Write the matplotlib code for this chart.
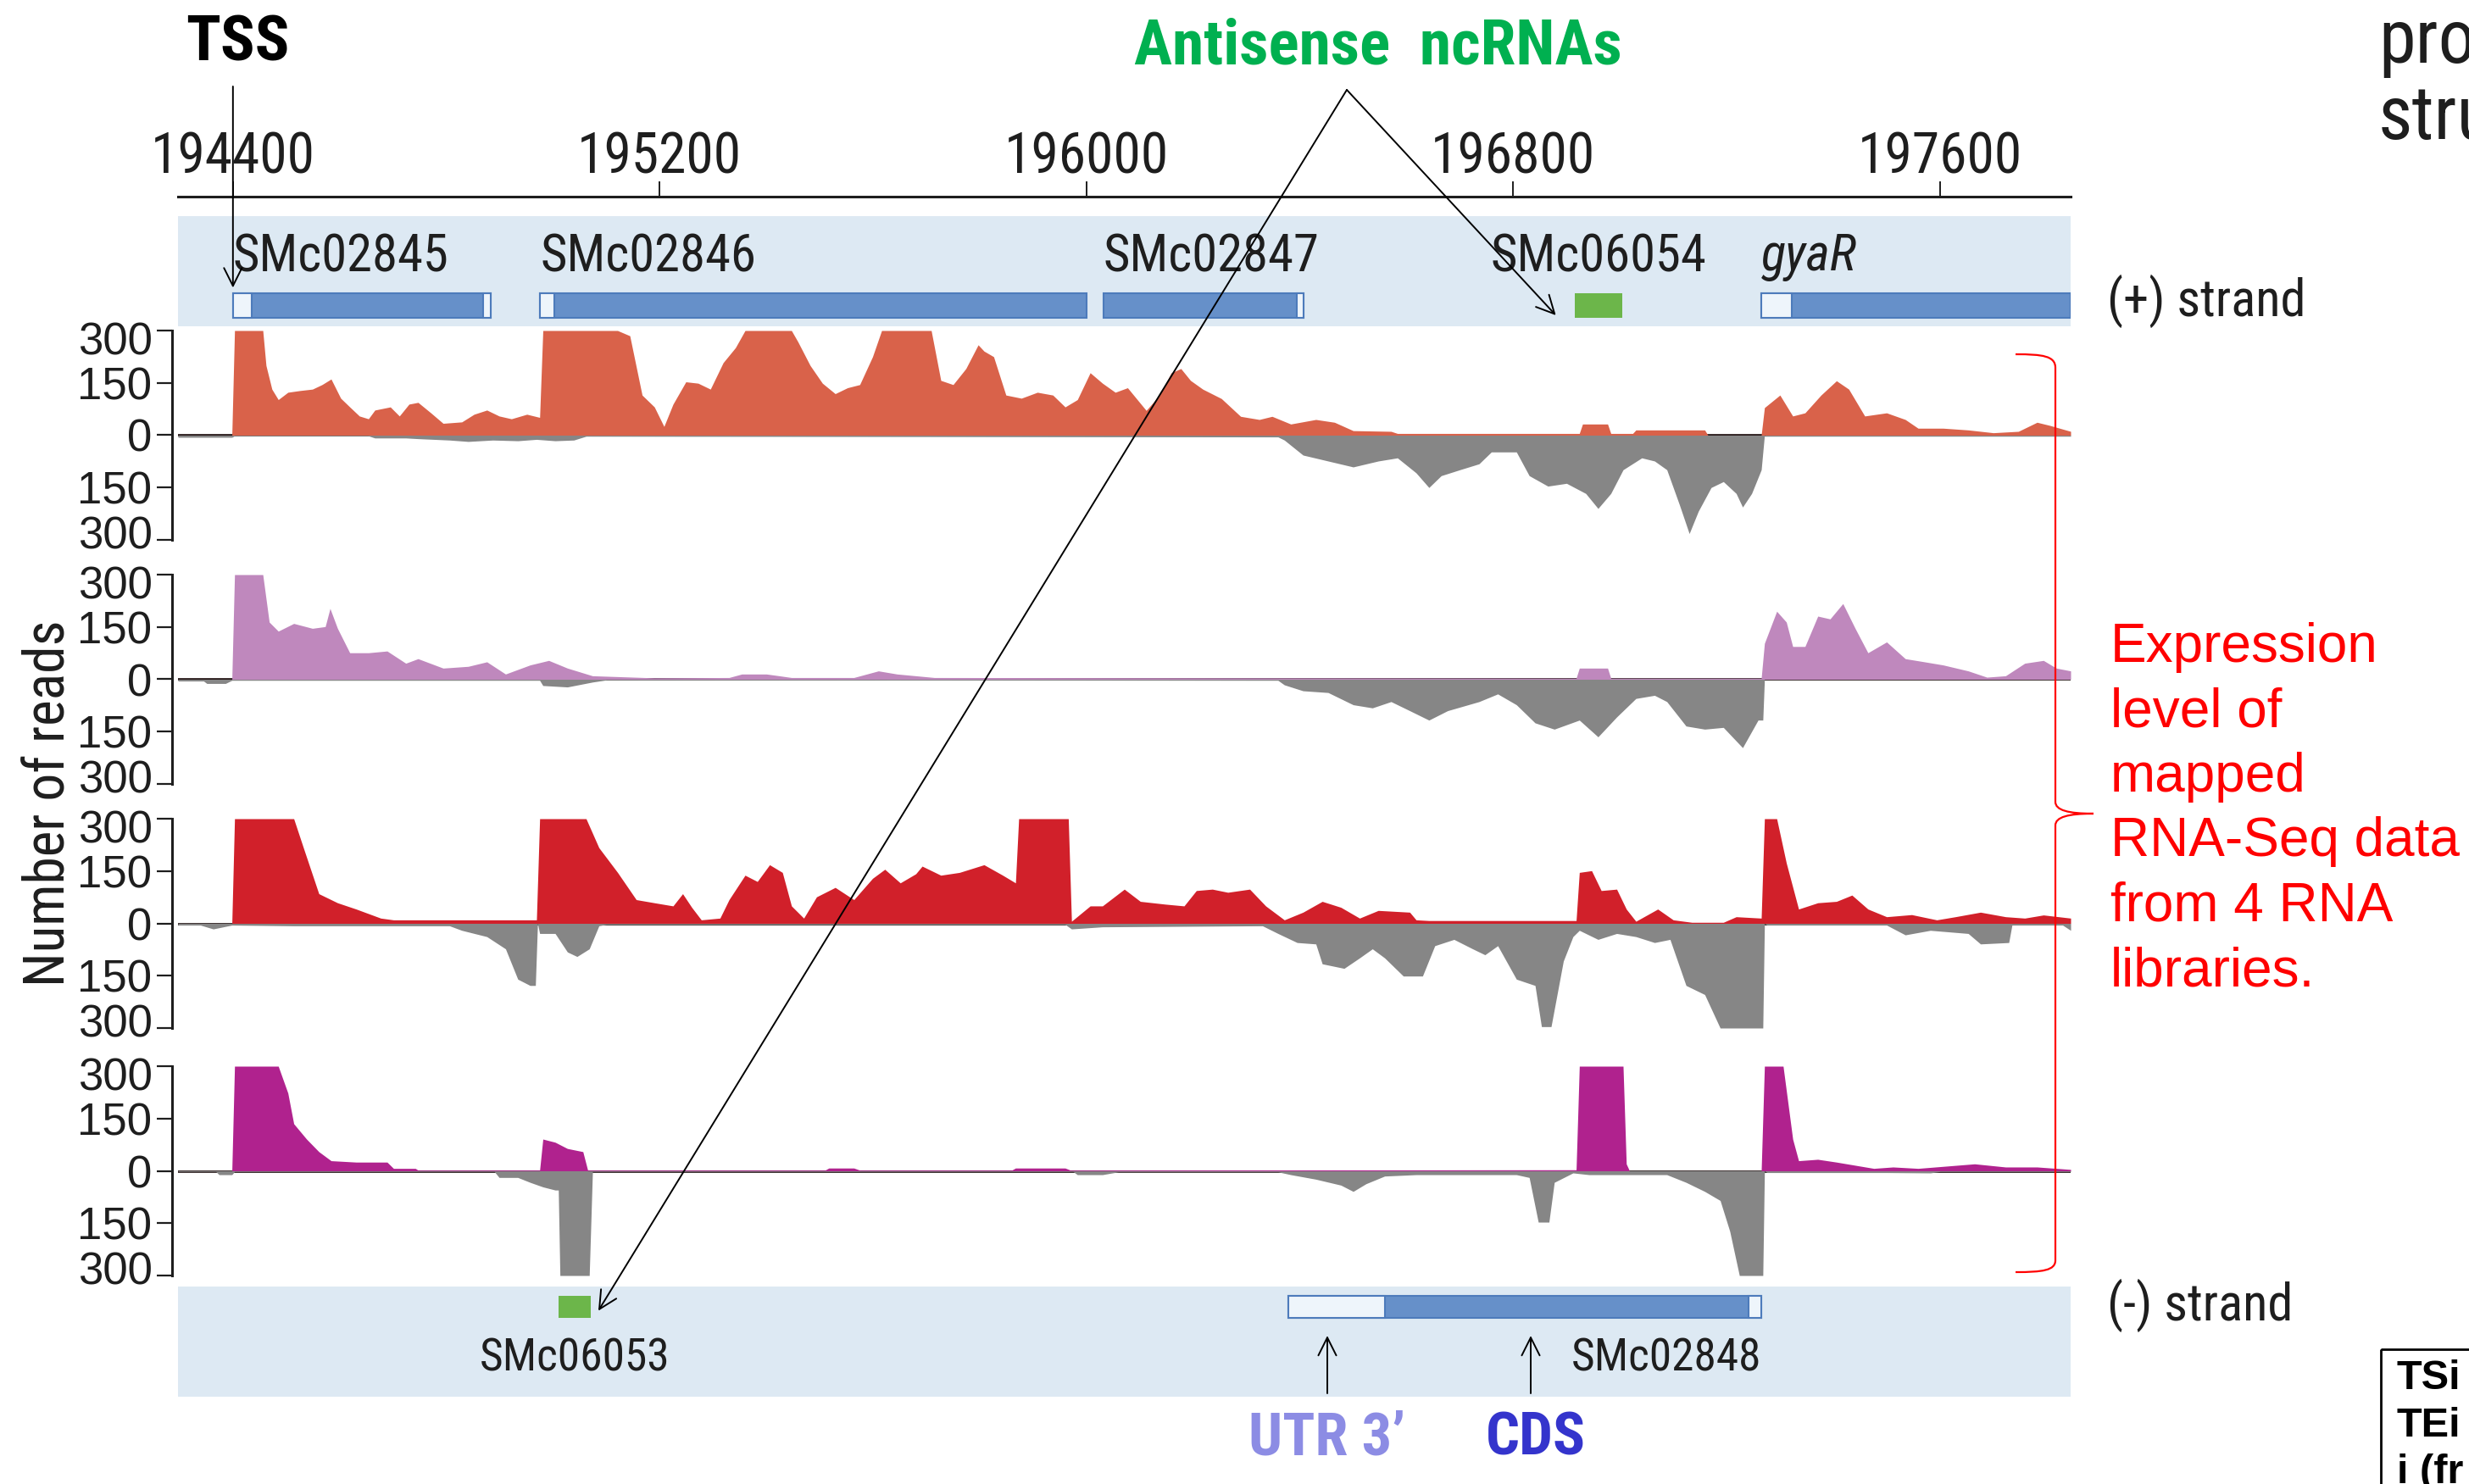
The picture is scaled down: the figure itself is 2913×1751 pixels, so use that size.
import matplotlib
matplotlib.use('Agg')
import matplotlib.pyplot as plt
from matplotlib import font_manager as fm
from matplotlib.patches import Rectangle, PathPatch
from matplotlib.path import Path
from matplotlib.transforms import ScaledTranslation

plt.rcParams['font.family'] = ['Liberation Sans', 'DejaVu Sans']

W, H = 2913, 1751

# genomic window (bp) and axis ticks
x_start, x_end = 194297, 197845
ruler_ticks = [194400, 195200, 196000, 196800, 197600]
read_ticks = [300, 150, 0, -150, -300]
read_tick_labels = ['300', '150', '0', '150', '300']

# genes on the (+) strand
plus_names = ['SMc02845', 'SMc02846', 'SMc02847', 'gyaR']
plus_starts = [194400, 194976, 196032, 197265]
plus_ends = [194884, 196000, 196407, 197845]
plus_utrs = [(194400, 194436), (194869, 194884), (194976, 195003),
             (196394, 196407), (197265, 197322)]
plus_ncrna = ('SMc06054', 196915, 197004)

# genes on the (-) strand
minus_names = ['SMc02848']
minus_starts = [196378]
minus_ends = [197265]
minus_utrs = [(196378, 196560), (197241, 197265)]
minus_ncrna = ('SMc06053', 195011, 195070)

# coverage of the 4 RNA libraries: (position bp, reads); plus strand up, minus strand down
lib1_plus = [(194297, 0), (194398, 0), (194403, 300), (194456, 300), (194462, 200), (194473, 132),
             (194485, 102), (194503, 123), (194526, 128), (194549, 132), (194567, 145), (194584, 161),
             (194602, 106), (194619, 81), (194637, 55), (194654, 47), (194666, 72), (194695, 81),
             (194712, 55), (194730, 89), (194747, 94), (194771, 64), (194794, 34), (194829, 38),
             (194852, 60), (194876, 72), (194899, 55), (194922, 47), (194951, 60), (194975, 51),
             (194981, 300), (195121, 300), (195144, 285), (195167, 115), (195190, 81), (195208, 25),
             (195225, 89), (195249, 153), (195272, 149), (195295, 132), (195319, 208), (195342, 251),
             (195360, 300), (195447, 300), (195459, 268), (195482, 200), (195505, 149), (195529, 119),
             (195552, 136), (195575, 145), (195599, 225), (195616, 300), (195709, 300), (195727, 157),
             (195750, 145), (195774, 191), (195797, 259), (195808, 241), (195826, 225), (195849, 115),
             (195878, 106), (195908, 123), (195937, 115), (195960, 81), (195983, 102), (196007, 179),
             (196030, 149), (196054, 123), (196077, 136), (196112, 71), (196136, 113), (196159, 179),
             (196177, 191), (196195, 157), (196218, 132), (196253, 105), (196289, 54), (196324, 45),
             (196348, 54), (196383, 32), (196430, 45), (196465, 37), (196500, 13), (196571, 11),
             (196583, 5), (196924, 5), (196930, 32), (196977, 32), (196983, 5), (197024, 5),
             (197030, 15), (197159, 15), (197165, 0), (197265, 0), (197271, 79), (197300, 115),
             (197324, 55), (197347, 64), (197377, 115), (197406, 156), (197429, 132), (197459, 55),
             (197500, 64), (197535, 45), (197559, 20), (197606, 20), (197653, 15), (197700, 7),
             (197747, 11), (197782, 37), (197806, 28), (197845, 11)]
lib1_minus = [(194297, 6), (194398, 6), (194403, 2), (194654, 2), (194666, 8), (194724, 8),
              (194747, 10), (194806, 14), (194841, 18), (194887, 14), (194934, 16), (194969, 12),
              (195004, 16), (195039, 14), (195062, 3), (196359, 5), (196371, 14), (196406, 57),
              (196453, 74), (196500, 91), (196547, 74), (196583, 65), (196618, 108), (196642, 150),
              (196665, 116), (196700, 99), (196736, 82), (196759, 48), (196806, 48), (196830, 116),
              (196865, 146), (196900, 138), (196936, 167), (196959, 210), (196983, 167), (197006, 99),
              (197041, 65), (197065, 74), (197088, 99), (197112, 201), (197130, 282), (197147, 218),
              (197171, 150), (197194, 133), (197218, 167), (197230, 206), (197247, 167), (197265, 99),
              (197271, 0), (197272, 3), (197845, 3)]

lib2_plus = [(194297, 0), (194398, 0), (194403, 300), (194456, 300), (194468, 164), (194485, 138),
             (194514, 160), (194549, 146), (194573, 151), (194582, 203), (194596, 146), (194619, 76),
             (194654, 76), (194689, 81), (194724, 46), (194747, 59), (194794, 32), (194841, 37),
             (194876, 50), (194911, 15), (194934, 28), (194957, 41), (194992, 54), (195027, 32),
             (195074, 10), (195190, 4), (195330, 5), (195354, 15), (195400, 15), (195424, 10),
             (195447, 5), (195564, 5), (195610, 24), (195645, 15), (195715, 5), (196918, 3),
             (196924, 32), (196977, 32), (196983, 3), (197265, 3), (197271, 103), (197294, 195),
             (197312, 164), (197324, 94), (197347, 94), (197371, 181), (197394, 173), (197418, 217),
             (197441, 146), (197465, 76), (197500, 107), (197535, 59), (197571, 50), (197606, 41),
             (197653, 24), (197688, 6), (197723, 10), (197759, 46), (197794, 54), (197818, 32),
             (197845, 24)]
lib2_minus = [(194297, 5), (194345, 5), (194351, 12), (194386, 12), (194398, 3), (194975, 3),
              (194981, 18), (195027, 22), (195074, 8), (195100, 2), (196359, 3), (196371, 16),
              (196406, 33), (196453, 38), (196500, 73), (196536, 82), (196571, 64), (196606, 90),
              (196642, 117), (196677, 90), (196736, 64), (196771, 42), (196806, 73), (196841, 125),
              (196877, 143), (196924, 117), (196959, 165), (196994, 108), (197030, 55), (197065, 46),
              (197088, 64), (197124, 134), (197159, 143), (197194, 138), (197230, 196), (197259, 117),
              (197268, 117), (197271, 0), (197845, 0)]

lib3_plus = [(194297, 0), (194398, 0), (194403, 300), (194514, 300), (194532, 217), (194561, 85),
             (194596, 59), (194631, 41), (194677, 15), (194701, 10), (194969, 10), (194975, 300),
             (195062, 300), (195086, 217), (195121, 146), (195156, 68), (195190, 59), (195225, 50),
             (195243, 85), (195260, 46), (195278, 10), (195313, 15), (195330, 68), (195360, 138),
             (195383, 120), (195406, 168), (195430, 146), (195447, 50), (195470, 15), (195494, 76),
             (195529, 103), (195564, 68), (195599, 129), (195622, 155), (195651, 116), (195680, 142),
             (195692, 164), (195727, 138), (195762, 146), (195808, 168), (195843, 138), (195867, 116),
             (195873, 300), (195966, 300), (195972, 6), (196007, 50), (196030, 50), (196071, 98),
             (196101, 63), (196148, 55), (196183, 50), (196206, 94), (196236, 98), (196265, 89),
             (196306, 98), (196336, 50), (196371, 10), (196406, 32), (196442, 63), (196477, 46),
             (196512, 15), (196547, 37), (196606, 32), (196618, 10), (196642, 8), (196918, 8),
             (196924, 146), (196947, 151), (196965, 94), (196994, 98), (197012, 41), (197030, 6),
             (197071, 41), (197100, 10), (197135, 3), (197194, 3), (197218, 19), (197265, 15),
             (197271, 300), (197294, 300), (197312, 173), (197335, 41), (197371, 59), (197406, 63),
             (197435, 81), (197465, 41), (197500, 19), (197547, 25), (197594, 10), (197629, 19),
             (197676, 32), (197723, 19), (197759, 15), (197794, 24), (197845, 15)]
lib3_minus = [(194297, 5), (194339, 5), (194363, 16), (194398, 5), (194514, 7), (194806, 7),
              (194829, 20), (194876, 38), (194911, 73), (194934, 160), (194957, 178), (194967, 178),
              (194971, 0), (194975, 29), (195004, 29), (195027, 82), (195045, 95), (195068, 73),
              (195086, 7), (195100, 3), (195960, 3), (195972, 16), (196030, 10), (196330, 7),
              (196359, 29), (196395, 55), (196430, 59), (196442, 116), (196483, 129), (196512, 99),
              (196536, 73), (196559, 99), (196594, 151), (196630, 151), (196653, 64), (196689, 46),
              (196724, 73), (196747, 90), (196771, 64), (196806, 160), (196841, 178), (196853, 296),
              (196871, 296), (196894, 108), (196912, 38), (196924, 20), (196959, 46), (196994, 29),
              (197030, 38), (197065, 55), (197094, 46), (197124, 178), (197159, 204), (197188, 300),
              (197268, 300), (197271, 0), (197276, 5), (197500, 5), (197535, 33), (197582, 20),
              (197653, 29), (197676, 59), (197729, 55), (197735, 5), (197830, 5), (197845, 20)]

lib4_plus = [(194297, 0), (194398, 0), (194403, 300), (194485, 300), (194503, 223), (194514, 135),
             (194538, 91), (194561, 55), (194584, 29), (194631, 25), (194689, 25), (194701, 7),
             (194742, 7), (194747, 2), (194975, 2), (194981, 91), (195004, 82), (195027, 64),
             (195056, 55), (195065, 2), (195510, 2), (195517, 8), (195564, 8), (195575, 2),
             (195860, 2), (195867, 8), (195960, 8), (195970, 2), (196918, 3), (196924, 300),
             (197006, 300), (197012, 20), (197018, 0), (197265, 0), (197271, 300), (197306, 300),
             (197324, 91), (197335, 29), (197371, 33), (197406, 25), (197441, 16), (197476, 7),
             (197512, 11), (197559, 7), (197665, 20), (197723, 11), (197782, 11), (197845, 4)]
lib4_minus = [(194297, 2), (194368, 2), (194374, 11), (194398, 11), (194403, 2), (194890, 2),
              (194899, 19), (194934, 19), (194957, 33), (194981, 46), (195004, 55), (195010, 55),
              (195013, 300), (195068, 300), (195074, 2), (195975, 2), (195983, 11), (196030, 11),
              (196060, 3), (196359, 3), (196383, 11), (196430, 24), (196477, 41), (196500, 59),
              (196524, 37), (196559, 15), (196618, 11), (196806, 11), (196830, 19), (196847, 147),
              (196867, 147), (196877, 33), (196912, 6), (196942, 11), (197088, 11), (197124, 33),
              (197159, 59), (197188, 85), (197206, 173), (197224, 300), (197268, 300), (197271, 0),
              (197276, 5), (197500, 5), (197582, 6), (197600, 2), (197845, 2)]

libraries = [(lib1_plus, lib1_minus, '#d9624a'),
             (lib2_plus, lib2_minus, '#bf88bd'),
             (lib3_plus, lib3_minus, '#d1202a'),
             (lib4_plus, lib4_minus, '#b0228e')]

band_color = '#dde9f3'
gene_color = '#6690c9'
gene_edge = '#4d7bbb'
utr_color = '#eef5fb'
ncrna_color = '#6cb64a'
minus_grey = '#868686'
ink = '#1e1e1e'


def pick_font(names):
    # first condensed family that is really installed, else None
    for n in names:
        try:
            fm.findfont(fm.FontProperties(family=n), fallback_to_default=False)
        except ValueError:
            continue
        return n
    return None


narrow = pick_font(['Liberation Sans Narrow', 'Arial Narrow', 'Roboto Condensed'])
if narrow:
    cond_font = [narrow, 'DejaVu Sans']
    k = 1.18
else:
    cond_font = ['Liberation Sans', 'DejaVu Sans']
    k = 1.0

fig = plt.figure(figsize=(W / 100, H / 100), dpi=100)


def px_axes(x0, y0, x1, y1):
    # axes from pixel box (top-left origin)
    return fig.add_axes([x0 / W, 1 - y1 / H, (x1 - x0) / W, (y1 - y0) / H])


def clean(ax):
    for s in ax.spines.values():
        s.set_visible(False)
    ax.set_xticks([])
    ax.set_yticks([])
    ax.set_xlim(x_start, x_end)


# genomic ruler
ax_r = px_axes(210, 232, 2443, 250)
clean(ax_r)
ax_r.patch.set_visible(False)
ax_r.spines['top'].set_visible(True)
ax_r.spines['top'].set_linewidth(2.2)
ax_r.spines['top'].set_color(ink)
ax_r.xaxis.tick_top()
ax_r.set_xticks(ruler_ticks)
ax_r.set_xticklabels([str(t) for t in ruler_ticks])
ax_r.tick_params(axis='x', direction='out', length=13, width=1.4, labelsize=40 * k,
                 pad=-3, colors=ink)
for lbl in ax_r.get_xticklabels():
    lbl.set_fontfamily(cond_font)


def draw_genes(ax, starts, ends, utrs, y0, h):
    for s, e in zip(starts, ends):
        ax.add_patch(Rectangle((s, y0), e - s, h, facecolor=gene_color,
                               edgecolor=gene_edge, lw=1.5))
    for s, e in utrs:
        ax.add_patch(Rectangle((s, y0), e - s, h, facecolor=utr_color,
                               edgecolor=gene_edge, lw=1.5))


gene_fs = 37 * k

# (+) strand band
ax_top = px_axes(210, 255, 2443, 385)
clean(ax_top)
ax_top.set_facecolor(band_color)
ax_top.set_ylim(0, 1)
draw_genes(ax_top, plus_starts, plus_ends, plus_utrs, 0.08, 0.22)
ax_top.add_patch(Rectangle((plus_ncrna[1], 0.08), plus_ncrna[2] - plus_ncrna[1], 0.22,
                           facecolor=ncrna_color, lw=0))
for name, s in zip(plus_names, plus_starts):
    ax_top.text(s, 0.63, name, fontsize=gene_fs, ha='left', va='center', color=ink,
                family=cond_font, style='italic' if name == 'gyaR' else 'normal')
ax_top.text((plus_ncrna[1] + plus_ncrna[2]) / 2, 0.63, plus_ncrna[0], fontsize=gene_fs,
            ha='center', va='center', color=ink, family=cond_font)

# coverage tracks
track_boxes = [(390, 637), (678, 925), (966, 1213), (1258, 1505)]
nudge_down = ScaledTranslation(0, -0.09, fig.dpi_scale_trans)
nudge_up = ScaledTranslation(0, 0.09, fig.dpi_scale_trans)
for (plus, minus, col), (t, b) in zip(libraries, track_boxes):
    ax = px_axes(210, t, 2443, b)
    ax.patch.set_visible(False)
    ax.set_xlim(x_start, x_end)
    ax.set_ylim(-300, 300)
    for side in ['top', 'right', 'bottom']:
        ax.spines[side].set_visible(False)
    ax.spines['left'].set_position(('outward', 5))
    ax.spines['left'].set_linewidth(2.2)
    ax.spines['left'].set_color(ink)
    ax.set_xticks([])
    ax.set_yticks(read_ticks)
    ax.set_yticklabels(read_tick_labels)
    ax.tick_params(axis='y', direction='out', length=13, width=1.6, labelsize=38,
                   pad=4, colors=ink)
    # keep the stacked 300 labels of neighbouring tracks apart
    labels = ax.get_yticklabels()
    labels[0].set_transform(labels[0].get_transform() + nudge_down)
    labels[-1].set_transform(labels[-1].get_transform() + nudge_up)
    ax.axhline(0, color='#2a1c1c', lw=2, zorder=1)
    px, py = zip(*plus)
    mx, my = zip(*minus)
    ax.fill_between(mx, 0, [-v for v in my], color=minus_grey, lw=0, zorder=2)
    ax.fill_between(px, 0, py, color=col, lw=0, zorder=3)

# (-) strand band
bot_fs = gene_fs * 0.88
ax_bot = px_axes(210, 1518, 2443, 1648)
clean(ax_bot)
ax_bot.set_facecolor(band_color)
ax_bot.set_ylim(0, 1)
draw_genes(ax_bot, minus_starts, minus_ends, minus_utrs, 0.715, 0.2)
ax_bot.add_patch(Rectangle((minus_ncrna[1], 0.715), minus_ncrna[2] - minus_ncrna[1], 0.2,
                           facecolor=ncrna_color, lw=0))
ax_bot.text((minus_ncrna[1] + minus_ncrna[2]) / 2, 0.35, minus_ncrna[0], fontsize=bot_fs,
            ha='center', va='center', color=ink, family=cond_font)
for name, e in zip(minus_names, minus_ends):
    ax_bot.text(e, 0.35, name, fontsize=bot_fs, ha='right', va='center', color=ink,
                family=cond_font)

# overlay for annotations, in pixel coordinates
ov = fig.add_axes([0, 0, 1, 1])
ov.set_xlim(0, W)
ov.set_ylim(H, 0)
ov.axis('off')
ov.set_zorder(10)


def to_px(ax, x, y):
    dx, dy = ax.transData.transform((x, y))
    return dx, H - dy


arrow = dict(arrowstyle='->', lw=1.4, color='black', mutation_scale=38,
             shrinkA=0, shrinkB=0)

ov.text(59, 948, 'Number of reads', rotation=90, fontsize=40 * k, ha='center',
        va='center', color=ink, family=cond_font)
ov.text(2486, 355, '(+) strand', fontsize=37 * k, ha='left', va='center', color=ink,
        family=cond_font)
ov.text(2486, 1540, '(-) strand', fontsize=37 * k, ha='left', va='center', color=ink,
        family=cond_font)

# TSS
tss_tip = to_px(ax_top, plus_starts[0], 0.35)
ov.text(280, 52, 'TSS', fontsize=46 * k, fontweight='bold', ha='center', va='center',
        color='black', family=cond_font)
ov.annotate('', xy=tss_tip, xytext=(tss_tip[0], 102), arrowprops=arrow)

# antisense ncRNAs
apex = (1589, 106)
ov.text(1626, 56, 'Antisense  ncRNAs', fontsize=46 * k, fontweight='bold', ha='center',
        va='center', color='#00b050', family=cond_font)
ov.annotate('', xy=to_px(ax_top, plus_ncrna[1] - 35, 0.1), xytext=apex, arrowprops=arrow)
ov.annotate('', xy=to_px(ax_bot, minus_ncrna[2] + 15, 0.78), xytext=apex, arrowprops=arrow)

# UTR / CDS labels
ov.annotate('', xy=(1566, 1576), xytext=(1566, 1644), arrowprops=arrow)
ov.annotate('', xy=(1806, 1576), xytext=(1806, 1644), arrowprops=arrow)
ov.text(1566, 1697, "UTR 3\u2019", fontsize=43 * k, fontweight='bold', ha='center',
        va='center', color='#8c8ce4', family=cond_font)
ov.text(1812, 1697, 'CDS', fontsize=43 * k, fontweight='bold', ha='center',
        va='center', color='#3434cc', family=cond_font)

# red brace + explanation
brace = Path([(2378, 418), (2410, 418), (2425, 420), (2425, 434),
              (2425, 946), (2425, 956), (2440, 960), (2470, 960),
              (2440, 960), (2425, 964), (2425, 974),
              (2425, 1487), (2425, 1499), (2410, 1501), (2378, 1501)],
             [Path.MOVETO, Path.CURVE4, Path.CURVE4, Path.CURVE4,
              Path.LINETO, Path.CURVE4, Path.CURVE4, Path.CURVE4,
              Path.CURVE4, Path.CURVE4, Path.CURVE4,
              Path.LINETO, Path.CURVE4, Path.CURVE4, Path.CURVE4])
ov.add_patch(PathPatch(brace, facecolor='none', edgecolor='#ff0000', lw=1.6))
ov.text(2490, 734, 'Expression\nlevel of\nmapped\nRNA-Seq data\nfrom 4 RNA\nlibraries.',
        fontsize=46, color='#ff0000', ha='left', va='top', linespacing=1.35)

# slide text cut by the right / bottom edge
ov.text(2806, 74, 'pro', fontsize=54 * k, ha='left', va='baseline', color=ink,
        family=cond_font)
ov.text(2806, 164, 'stru', fontsize=54 * k, ha='left', va='baseline', color=ink,
        family=cond_font)
ov.add_patch(Rectangle((2809, 1592), 300, 300, fill=False, lw=2, edgecolor='black'))
ov.text(2828, 1604, 'TSi\nTEi\ni (fr', fontsize=35, fontweight='bold', ha='left',
        va='top', color='black', linespacing=1.3)

fig.savefig('out.png', dpi=100)
